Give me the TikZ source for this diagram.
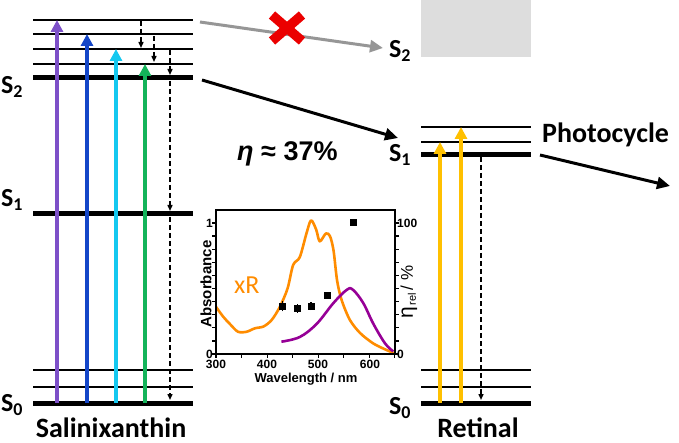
\documentclass[tikz,border=0pt]{standalone}
\usepackage{fontspec}
\setmainfont{Carlito}
\newfontfamily\arialf{Liberation Sans}
\usetikzlibrary{arrows.meta}
\definecolor{cviolet}{RGB}{125,80,200}
\definecolor{cblue}{RGB}{20,70,200}
\definecolor{ccyan}{RGB}{20,200,240}
\definecolor{cgreen}{RGB}{20,180,90}
\definecolor{camber}{RGB}{255,192,0}
\definecolor{corange}{RGB}{255,140,0}
\definecolor{cpurple}{RGB}{150,0,150}
\definecolor{cred}{RGB}{235,0,0}
\definecolor{cgrayarrow}{RGB}{150,150,150}
\definecolor{cgraybox}{RGB}{221,221,221}
\newcommand{\St}[1]{S\raisebox{-4pt}{\fontsize{18}{18}\selectfont #1}}
\begin{document}
\begin{tikzpicture}[x=1pt,y=-1pt,
  thinlvl/.style={line width=1.8pt},
  thicklvl/.style={line width=5pt},
  exc/.style={line width=4pt,-{Triangle[width=12pt,length=12pt]}},
  relax/.style={line width=1.4pt,dash pattern=on 5pt off 3pt,-{Triangle[width=5pt,length=6pt]}},
  bigarrow/.style={line width=3pt,-{Triangle[width=12pt,length=13pt]}},
  lvllabel/.style={font=\fontsize{26}{26}\selectfont\bfseries, inner sep=0pt, anchor=base west},
  title/.style={font=\fontsize{28}{28}\selectfont\bfseries, inner sep=0pt},
  ticklab/.style={font=\arialf\bfseries\fontsize{12}{12}\selectfont, inner sep=0pt},
  axlab/.style={font=\arialf\bfseries\fontsize{13}{13}\selectfont, inner sep=0pt},
  sq/.style={fill=black, minimum size=7pt, inner sep=0pt, rectangle},
]
\useasboundingbox (0,0) rectangle (679,443);

% ---------- gray box ----------
\fill[cgraybox] (421,0) rectangle (531,57);

% ---------- Salinixanthin levels ----------
\foreach \yy in {20,34,49,64} \draw[thinlvl] (33,\yy) -- (193,\yy);
\draw[thicklvl] (33,78) -- (193,78);
\draw[thicklvl] (33,214) -- (193,214);
\foreach \yy in {370,387} \draw[thinlvl] (33,\yy) -- (193,\yy);
\draw[thicklvl] (33,403) -- (193,403);

% ---------- Retinal levels ----------
\foreach \yy in {127,142} \draw[thinlvl] (421,\yy) -- (531,\yy);
\draw[thicklvl] (421,155) -- (531,155);
\foreach \yy in {370,387} \draw[thinlvl] (421,\yy) -- (531,\yy);
\draw[thicklvl] (421,403) -- (531,403);

% ---------- coordinates ----------
\coordinate (va) at (57,403);  \coordinate (vb) at (57,20);
\coordinate (ba) at (87,403);  \coordinate (bb) at (87,34);
\coordinate (ca) at (116,403); \coordinate (cb) at (116,49);
\coordinate (ga) at (145,403); \coordinate (gb) at (145,64);
\coordinate (d1a) at (141,21); \coordinate (d1b) at (141,48);
\coordinate (d2a) at (154,36); \coordinate (d2b) at (154,62);
\coordinate (d3a) at (170,50); \coordinate (d3b) at (170,75);
\coordinate (d4a) at (170,81); \coordinate (d4b) at (170,211);
\coordinate (d5a) at (170,217); \coordinate (d5b) at (170,400);
\coordinate (oa) at (440,403); \coordinate (ob) at (440,142);
\coordinate (pa) at (461,403); \coordinate (pb) at (461,127);
\coordinate (ra) at (481,157); \coordinate (rb) at (481,400);
\coordinate (gy1) at (200,22); \coordinate (gy2) at (383,48);
\coordinate (bk1) at (202,80); \coordinate (bk2) at (398,138);
\coordinate (ph1) at (540,155); \coordinate (ph2) at (670,186);

% ---------- excitation arrows ----------
\draw[exc,cviolet] (va) -- (vb);
\draw[exc,cblue] (ba) -- (bb);
\draw[exc,ccyan] (ca) -- (cb);
\draw[exc,cgreen] (ga) -- (gb);
\draw[exc,camber] (oa) -- (ob);
\draw[exc,camber] (pa) -- (pb);

% ---------- relaxation ----------
\draw[relax] (d1a) -- (d1b);
\draw[relax] (d2a) -- (d2b);
\draw[relax] (d3a) -- (d3b);
\draw[relax] (d4a) -- (d4b);
\draw[relax] (d5a) -- (d5b);
\draw[relax] (ra) -- (rb);

% ---------- transfer arrows ----------
\draw[bigarrow,cgrayarrow] (gy1) -- (gy2);
\draw[cred,line width=9.5pt] (272,15) -- (302,41);
\draw[cred,line width=9.5pt] (302,15) -- (272,41);
\draw[bigarrow] (bk1) -- (bk2);
\draw[bigarrow] (ph1) -- (ph2);

% ---------- labels ----------
\node[lvllabel] (s2l) at (1,94) {\St{2}};
\node[lvllabel] (s1l) at (1,207) {\St{1}};
\node[lvllabel] (s0l) at (1,411) {\St{0}};
\node[lvllabel] (s2g) at (389,58) {\St{2}};
\node[lvllabel] (s1r) at (389,162) {\St{1}};
\node[lvllabel] (s0r) at (389,414) {\St{0}};
\node[title, anchor=base] (salx) at (111,437) {Salinixanthin};
\node[title, anchor=base] (ret) at (478,437) {Retinal};
\node[title, anchor=base west] (photo) at (542,143) {Photocycle};
\node[inner sep=0pt, anchor=base west, font=\arialf\bfseries\fontsize{27}{27}\selectfont] (eta) at (237,161) {\textit{η} ≈ 37\%};

% ---------- inset plot ----------
\begin{scope}[shift={(62.7pt,-354pt)}, x=0.511pt, y=131pt]
  \draw[corange, line width=2.6pt, line join=round] plot[smooth, tension=0.5] coordinates {
    (300,0.36)(314,0.285)(327,0.23)(343,0.17)(360,0.17)(376,0.196)(393,0.21)(409,0.26)
    (425,0.36)(440,0.50)(451,0.68)(464,0.74)(477,0.92)(486,1.02)(496,0.95)(503,0.86)
    (515,0.92)(523,0.90)(530,0.79)(537,0.56)(546,0.41)(562,0.26)(582,0.16)(608,0.08)
    (634,0.03)(650,0.005)};
  \draw[cpurple, line width=2.6pt, line join=round] plot[smooth, tension=0.6] coordinates {
    (428,0.094)(464,0.13)(497,0.23)(530,0.39)(556,0.49)(568,0.49)(588,0.39)(608,0.23)
    (631,0.08)(647,0.02)};
  \draw[line width=2.2pt] (300,0) rectangle (650,1.1);
  \foreach \v in {0,0.1,0.2,0.3,0.4,0.5,0.6,0.7,0.8,0.9,1.0} {
    \draw[line width=1.2pt] (300,\v) -- ++(-4pt,0);
    \draw[line width=1.2pt] (650,\v) -- ++(4pt,0);
  }
  \foreach \u in {300,350,400,450,500,550,600,650}
    \draw[line width=1.2pt] (\u,0) -- ++(0,-4pt);
  \draw[line width=1.2pt] (430,0.326) -- (430,0.406);
  \draw[line width=1.2pt] (459,0.315) -- (459,0.385);
  \draw[line width=1.2pt] (486,0.335) -- (486,0.397);
  \node[sq] (q1) at (430,0.366) {};
  \node[sq] (q2) at (459,0.35) {};
  \node[sq] (q3) at (486,0.366) {};
  \node[sq] (q4) at (518,0.45) {};
  \node[sq] (q5) at (569,1.0) {};
\end{scope}

\node[ticklab, anchor=east] (tl1) at (213,223) {1};
\node[ticklab, anchor=east] (tl0) at (213,354) {0};
\node[ticklab, anchor=west] (tr1) at (397,223) {100};
\node[ticklab, anchor=west] (tr0) at (397,354) {0};
\node[ticklab, anchor=north] (tb3) at (216,360) {300};
\node[ticklab, anchor=north] (tb4) at (267,360) {400};
\node[ticklab, anchor=north] (tb5) at (318,360) {500};
\node[ticklab, anchor=north] (tb6) at (370,360) {600};
\node[axlab, rotate=90, font=\arialf\bfseries\fontsize{15}{15}\selectfont] (absl) at (206,284) {Absorbance};
\node[axlab] (wll) at (306,379) {Wavelength / nm};
\node[inner sep=0pt, rotate=90, font=\arialf] (etal) at (409,292)
  {{\fontsize{21}{21}\selectfont η}\,\raisebox{-3pt}{\fontsize{11}{11}\selectfont rel}\ {\fontsize{17}{17}\selectfont / \%}};
\node[font=\fontsize{26}{26}\selectfont, text=corange, inner sep=0pt, anchor=base west] (xr) at (234,294) {xR};
\end{tikzpicture}
\end{document}
